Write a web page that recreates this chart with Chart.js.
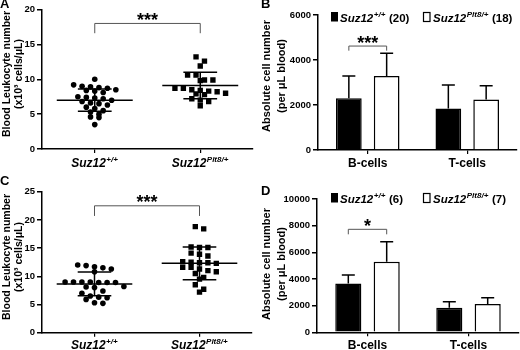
<!DOCTYPE html>
<html>
<head>
<meta charset="utf-8">
<script src="https://cdn.jsdelivr.net/npm/chart.js@4.4.0/dist/chart.umd.min.js"></script>
<style>
  body { margin: 0; background: #fff; width: 520px; height: 350px; overflow: hidden; position: relative; }
  .panel { position: absolute; width: 260px; height: 175px; }
  .panel canvas { display: block; }
  .letter { position: absolute; font: bold 13px "Liberation Sans", Arial, sans-serif; color: #000; }
</style>
</head>
<body>
<div class="panel" style="left:0;top:0"><canvas id="chart-a" width="260" height="175"></canvas></div>
<div class="panel" style="left:260px;top:0"><canvas id="chart-b" width="260" height="175"></canvas></div>
<div class="panel" style="left:0;top:175px"><canvas id="chart-c" width="260" height="175"></canvas></div>
<div class="panel" style="left:260px;top:175px"><canvas id="chart-d" width="260" height="175"></canvas></div>
<div class="letter" style="left:0;top:-4px">A</div>
<div class="letter" style="left:261px;top:-4px">B</div>
<div class="letter" style="left:0;top:173px">C</div>
<div class="letter" style="left:261px;top:183px">D</div>

<script>
const FONT = '"Liberation Sans", Arial, sans-serif';

// genotypes: Suz12 with the allele written as superscript
const alleles = ["+/+", "Plt8/+"];

// A: blood leukocytes (x10^3 cells/uL), one value per mouse
const wbcA_wt = [10.0, 9.2, 9.0, 8.9, 8.8, 8.7, 8.5, 8.4, 8.3, 8.1, 7.5, 7.4, 7.3, 7.2, 7.0, 6.8, 6.6, 6.5, 6.3, 6.0, 5.8, 5.5, 5.3, 5.0, 4.6, 4.5, 3.5];
const wbcA_plt8 = [13.2, 12.6, 11.9, 10.6, 10.6, 9.9, 9.8, 9.9, 8.7, 8.4, 8.2, 8.3, 8.5, 8.7, 8.0, 7.8, 7.9, 7.2, 7.0, 6.8, 6.2];
const meanA = [7.0, 9.1];
const sdA = [1.6, 1.9];
const yTicksA = [0, 5, 10, 15, 20];

// C: same measure, second cohort
const wbcC_wt = [12.0, 11.9, 11.7, 11.5, 11.3, 10.8, 9.0, 9.0, 8.9, 8.9, 9.0, 8.9, 9.0, 8.1, 8.0, 8.2, 7.4, 7.0, 6.5, 6.3, 6.2, 5.9, 5.3, 5.2];
const wbcC_plt8 = [18.8, 18.4, 15.2, 15.1, 15.1, 14.1, 13.9, 13.6, 12.6, 12.4, 12.5, 12.3, 12.4, 11.6, 11.3, 11.6, 10.8, 10.5, 11.0, 9.5, 9.8, 8.5, 7.7, 7.2];
const meanC = [8.65, 12.3];
const sdC = [2.1, 2.9];
const yTicksC = [0, 5, 10, 15, 20, 25];

// B and D: absolute cell number per uL blood (mean, SD)
const cellTypes = ["B-cells", "T-cells"];
const meanB_wt = [2300, 1850];
const sdB_wt = [990, 1040];
const meanB_plt8 = [3290, 2250];
const sdB_plt8 = [1010, 610];
const nB = [20, 18];
const yTicksB = [0, 2000, 4000, 6000];

const meanD_wt = [3670, 1850];
const sdD_wt = [630, 450];
const meanD_plt8 = [5300, 2130];
const sdD_plt8 = [1500, 470];
const nD = [6, 7];
const yTicksD = [0, 2000, 4000, 6000, 8000, 10000];

// significance brackets: [bracket top, leg end, label]
const sigA = [18.0, 16.6, "***"];
const sigC = [22.5, 20.7, "***"];
const sigB = [4620, 4415, "***"];
const sigD = [7725, 7350, "*"];

const wbcTitle = ["Blood Leukocyte number", "(x10\u00b3 cells/\u03bcL)"];
const cellTitle = ["Absolute cell number", "(per \u03bcL blood)"];

// "Suz12" + superscript allele (+ optional plain suffix)
function drawGeno(ctx, x, y, sup, suffix, size, align) {
  const base = `italic bold ${size}px ${FONT}`;
  const small = `italic bold ${Math.round(size * 0.68)}px ${FONT}`;
  const plain = `bold ${size}px ${FONT}`;
  ctx.font = base;
  const w1 = ctx.measureText("Suz12").width;
  ctx.font = small;
  const w2 = ctx.measureText(sup).width;
  ctx.font = plain;
  const w3 = suffix ? ctx.measureText(suffix).width : 0;
  const x0 = align === "center" ? x - (w1 + w2 + w3 + 1) / 2 : x;
  ctx.textAlign = "left";
  ctx.textBaseline = "alphabetic";
  ctx.fillStyle = "#000";
  ctx.font = base;
  ctx.fillText("Suz12", x0, y);
  ctx.font = small;
  ctx.fillText(sup, x0 + w1 + 0.5, y - size * 0.42);
  if (suffix) {
    ctx.font = plain;
    ctx.fillText(suffix, x0 + w1 + w2 + 1, y);
  }
}

function drawBracket(ctx, yScale, x1, x2, sig) {
  const yTop = yScale.getPixelForValue(sig[0]);
  const yLeg = yScale.getPixelForValue(sig[1]);
  ctx.save();
  ctx.strokeStyle = "#555";
  ctx.lineWidth = 1;
  ctx.beginPath();
  ctx.moveTo(x1, yLeg);
  ctx.lineTo(x1, yTop);
  ctx.lineTo(x2, yTop);
  ctx.lineTo(x2, yLeg);
  ctx.stroke();
  ctx.fillStyle = "#000";
  ctx.font = `bold 18px ${FONT}`;
  ctx.textAlign = "center";
  ctx.textBaseline = "alphabetic";
  ctx.fillText(sig[2], (x1 + x2) / 2, yTop + 2.5);
  ctx.restore();
}

// y axis title, two rotated lines (the original sits a bit above the axis centre)
const yTitle = {
  id: "yTitle",
  afterDraw(chart, args, opts) {
    const { ctx } = chart;
    ctx.save();
    ctx.fillStyle = "#000";
    ctx.font = `bold ${opts.size}px ${FONT}`;
    ctx.textAlign = "center";
    ctx.textBaseline = "middle";
    opts.lines.forEach((line, i) => {
      ctx.save();
      ctx.translate(opts.x[i], opts.centerY);
      ctx.rotate(-Math.PI / 2);
      ctx.fillText(line, 0, 0);
      ctx.restore();
    });
    ctx.restore();
  },
};

// spread mice with close values side by side, like a Prism dot plot
function swarm(values, center, rowH, dx) {
  const sorted = values.slice().sort((a, b) => b - a);
  const rows = [];
  sorted.forEach((v) => {
    const row = rows[rows.length - 1];
    if (row && row[0] - v <= rowH) row.push(v);
    else rows.push([v]);
  });
  const pts = [];
  rows.forEach((row) =>
    row.forEach((v, i) => pts.push({ x: center + (i - (row.length - 1) / 2) * dx, y: v }))
  );
  return pts;
}

const scatterOverlay = {
  id: "scatterOverlay",
  afterDatasetsDraw(chart, args, opts) {
    const { ctx } = chart;
    const xs = chart.scales.x;
    const ys = chart.scales.y;
    ctx.save();
    ctx.strokeStyle = "#000";
    ctx.lineWidth = 1.5;
    opts.means.forEach((m, i) => {
      const c = i + 0.5;
      const hLine = (v, half) => {
        ctx.beginPath();
        ctx.moveTo(xs.getPixelForValue(c - half), ys.getPixelForValue(v));
        ctx.lineTo(xs.getPixelForValue(c + half), ys.getPixelForValue(v));
        ctx.stroke();
      };
      hLine(m, 0.36);
      hLine(m + opts.sds[i], 0.16);
      hLine(m - opts.sds[i], 0.16);
      ctx.beginPath();
      ctx.moveTo(xs.getPixelForValue(c), ys.getPixelForValue(m - opts.sds[i]));
      ctx.lineTo(xs.getPixelForValue(c), ys.getPixelForValue(m + opts.sds[i]));
      ctx.stroke();
    });
    ctx.restore();
    drawBracket(ctx, ys, xs.getPixelForValue(0.5), xs.getPixelForValue(1.5), opts.sig);
    alleles.forEach((a, i) => {
      drawGeno(ctx, xs.getPixelForValue(i + 0.5), xs.top + opts.labelDy, a, "", 12, "center");
    });
  },
};

const barOverlay = {
  id: "barOverlay",
  afterDatasetsDraw(chart, args, opts) {
    const { ctx } = chart;
    const ys = chart.scales.y;
    ctx.save();
    ctx.strokeStyle = "#000";
    ctx.lineWidth = 1.5;
    chart.data.datasets.forEach((ds, i) => {
      chart.getDatasetMeta(i).data.forEach((bar, j) => {
        const top = ys.getPixelForValue(ds.data[j] + ds.errors[j]);
        ctx.beginPath();
        ctx.moveTo(bar.x, bar.y);
        ctx.lineTo(bar.x, top);
        ctx.moveTo(bar.x - 6.5, top);
        ctx.lineTo(bar.x + 6.5, top);
        ctx.stroke();
      });
    });
    ctx.restore();
    const b0 = chart.getDatasetMeta(0).data[0];
    const b1 = chart.getDatasetMeta(1).data[0];
    drawBracket(ctx, ys, b0.x, b1.x, opts.sig);

    // legend
    ctx.save();
    ctx.fillStyle = "#000";
    ctx.fillRect(71, opts.legendY, 7, 9.5);
    ctx.fillStyle = "#fff";
    ctx.fillRect(163.5, opts.legendY + 0.5, 6.5, 9);
    ctx.strokeStyle = "#000";
    ctx.lineWidth = 1.2;
    ctx.strokeRect(163.5, opts.legendY + 0.5, 6.5, 9);
    ctx.restore();
    drawGeno(ctx, 80, opts.legendY + 9.5, alleles[0], ` (${opts.n[0]})`, 11.5, "left");
    drawGeno(ctx, 173, opts.legendY + 9.5, alleles[1], ` (${opts.n[1]})`, 11.5, "left");
  },
};

function yAxis(ticks, width) {
  return {
    min: ticks[0],
    max: ticks[ticks.length - 1],
    afterBuildTicks: (s) => { s.ticks = ticks.map((v) => ({ value: v })); },
    afterFit: (s) => { s.width = width; },
    border: { color: "#000", width: 1.5 },
    grid: { drawOnChartArea: false, color: "#000", lineWidth: 1.5, tickLength: 5 },
    ticks: {
      color: "#000",
      padding: 2,
      font: { family: FONT, size: 9.5, weight: "bold" },
      callback: (v) => String(v),
    },
  };
}

function scatterChart(id, wt, plt8, means, sds, yTicks, rowH, sig, pad, xHeight, labelDy, titleY) {
  new Chart(document.getElementById(id), {
    type: "scatter",
    data: {
      datasets: [
        {
          data: swarm(wt, 0.5, rowH, 0.08),
          pointStyle: "circle",
          pointRadius: 2.8,
          backgroundColor: "#000",
          borderWidth: 0,
        },
        {
          data: swarm(plt8, 1.5, rowH, 0.08),
          pointStyle: "rect",
          pointRadius: 3.8,
          backgroundColor: "#000",
          borderWidth: 0,
        },
      ],
    },
    options: {
      responsive: false,
      animation: false,
      events: [],
      layout: { padding: pad },
      plugins: {
        legend: { display: false },
        tooltip: { enabled: false },
        scatterOverlay: { means, sds, sig, labelDy },
        yTitle: { lines: wbcTitle, x: [7, 19.5], centerY: titleY, size: 10.5 },
      },
      scales: {
        x: {
          type: "linear",
          min: 0,
          max: 2,
          afterBuildTicks: (s) => { s.ticks = [{ value: 0.5 }, { value: 1.5 }]; },
          afterFit: (s) => { s.height = xHeight; },
          border: { color: "#000", width: 1.5 },
          grid: { drawOnChartArea: false, color: "#000", lineWidth: 1.2, tickLength: 4 },
          ticks: { callback: () => "" },
        },
        y: yAxis(yTicks, 42),
      },
    },
    plugins: [scatterOverlay, yTitle],
  });
}

function barChart(id, wtMean, wtSd, plMean, plSd, yTicks, n, sig, pad, xHeight, legendY, yWidth, titleY) {
  new Chart(document.getElementById(id), {
    type: "bar",
    data: {
      labels: cellTypes,
      datasets: [
        { data: wtMean, errors: wtSd, backgroundColor: "#000", borderColor: "#000", borderWidth: 1.5 },
        { data: plMean, errors: plSd, backgroundColor: "#fff", borderColor: "#000", borderWidth: 1.5 },
      ],
    },
    options: {
      responsive: false,
      animation: false,
      events: [],
      layout: { padding: pad },
      categoryPercentage: 0.76,
      barPercentage: 0.68,
      plugins: {
        legend: { display: false },
        tooltip: { enabled: false },
        barOverlay: { sig, n, legendY },
        yTitle: { lines: cellTitle, x: [7, 22], centerY: titleY, size: 11 },
      },
      scales: {
        x: {
          afterFit: (s) => { s.height = xHeight; },
          border: { color: "#000", width: 1.5 },
          grid: { offset: false, drawOnChartArea: false, color: "#000", lineWidth: 1.2, tickLength: 4 },
          ticks: { color: "#000", padding: 2, font: { family: FONT, size: 12, weight: "bold" } },
        },
        y: yAxis(yTicks, yWidth),
      },
    },
    plugins: [barOverlay, yTitle],
  });
}

scatterChart("chart-a", wbcA_wt, wbcA_plt8, meanA, sdA, yTicksA, 0.7, sigA,
  { top: 9.5, right: 7, left: 0, bottom: 0 }, 26, 18, 74);
scatterChart("chart-c", wbcC_wt, wbcC_plt8, meanC, sdC, yTicksC, 0.9, sigC,
  { top: 16.7, right: 8, left: 0, bottom: 0 }, 17.3, 16, 82);
barChart("chart-b", meanB_wt, sdB_wt, meanB_plt8, sdB_plt8, yTicksB, nB, sigB,
  { top: 15, right: 3, left: 0, bottom: 0 }, 25, 12, 58, 76);
barChart("chart-d", meanD_wt, sdD_wt, meanD_plt8, sdD_plt8, yTicksD, nD, sigD,
  { top: 24, right: 1, left: 0, bottom: 0 }, 17.7, 18, 57, 89);
</script>
</body>
</html>
